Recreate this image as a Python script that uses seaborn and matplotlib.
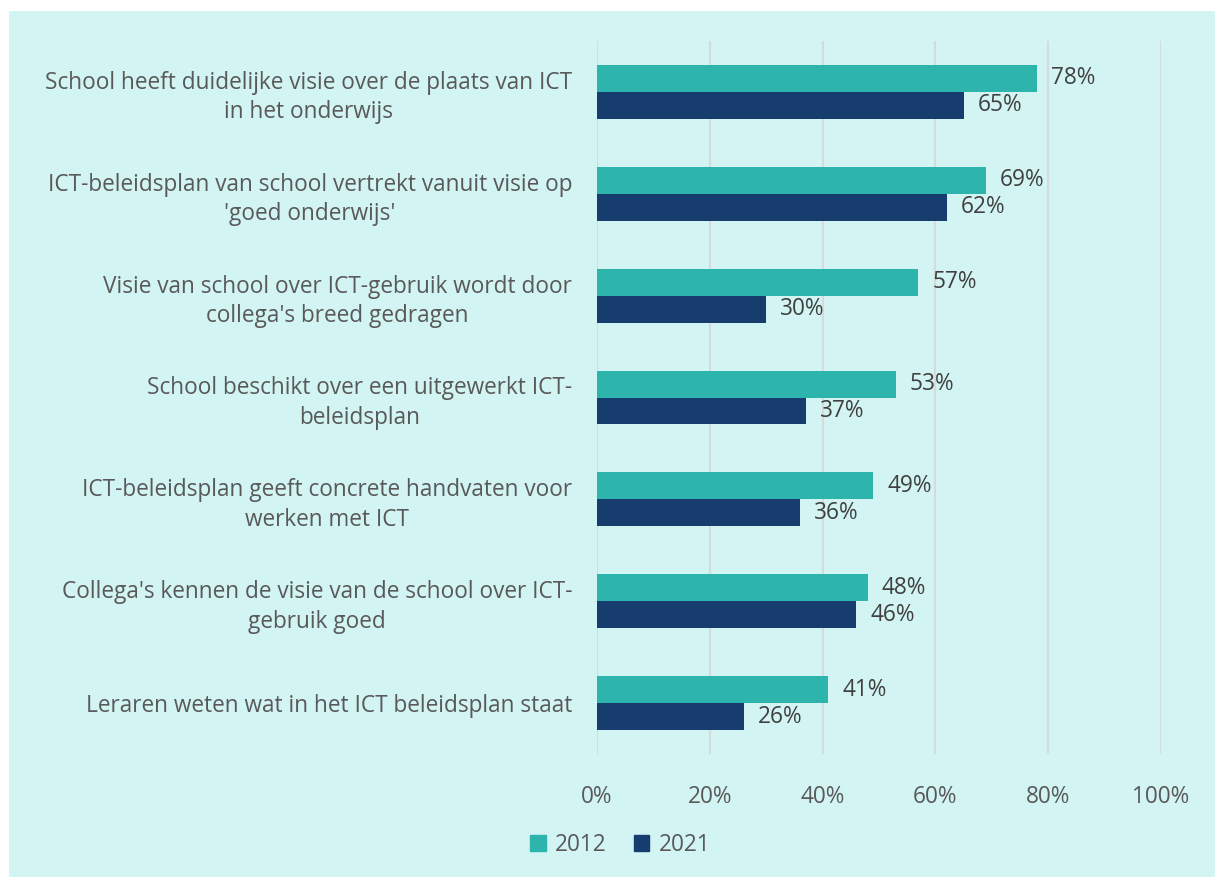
import matplotlib
matplotlib.use("Agg")
import matplotlib.pyplot as plt
import matplotlib.patches as mpatches
import seaborn as sns
import pandas as pd

categories = [
    "School heeft duidelijke visie over de plaats van ICT\nin het onderwijs",
    "ICT-beleidsplan van school vertrekt vanuit visie op\n'goed onderwijs'",
    "Visie van school over ICT-gebruik wordt door\ncollega's breed gedragen",
    "School beschikt over een uitgewerkt ICT-\nbeleidsplan",
    "ICT-beleidsplan geeft concrete handvaten voor\nwerken met ICT",
    "Collega's kennen de visie van de school over ICT-\ngebruik goed",
    "Leraren weten wat in het ICT beleidsplan staat",
]
values_2012 = [78, 69, 57, 53, 49, 48, 41]
values_2021 = [65, 62, 30, 37, 36, 46, 26]
series = ["2012", "2021"]
xticks = [0, 20, 40, 60, 80, 100]

df = pd.DataFrame({
    "cat": categories * 2,
    "val": values_2012 + values_2021,
    "year": [series[0]] * len(categories) + [series[1]] * len(categories),
})

sns.set_theme(style="white")
plt.rcParams["font.family"] = ["Open Sans", "DejaVu Sans"]

BG = "#D2F4F2"
TXT = "#595959"
FS = 16.3
colors = {"2012": "#2DB5AD", "2021": "#163D6E"}

fig = plt.figure(figsize=(12.15, 8.77), dpi=100, facecolor="white")
W, H = 1215, 877
fig.patches.append(mpatches.Rectangle((9 / W, 0), 1 - 9 / W, 1 - 11 / H,
                                      transform=fig.transFigure, facecolor=BG,
                                      edgecolor="none", zorder=-10))

ax = fig.add_axes([597 / W, 1 - 754 / H, (1161 - 597) / W, (754 - 41) / H])
ax.set_facecolor("none")

sns.barplot(data=df, y="cat", x="val", hue="year", palette=colors, orient="h",
            width=0.53, gap=0, ax=ax, legend=False, saturation=1, linewidth=0)

for cont, yr in zip(ax.containers, series):
    ax.bar_label(cont, labels=[f"{int(v)}%" for v in cont.datavalues],
                 padding=10, fontsize=FS, color="#404040")

ax.set_xlim(0, 100)
ax.set_ylim(6.5, -0.5)
ax.set_xticks(xticks)
ax.set_xticklabels([f"{t}%" for t in xticks], fontsize=FS, color=TXT)
ax.tick_params(axis="x", pad=22, length=0)
ax.tick_params(axis="y", pad=18, length=0)
ax.set_yticks(range(len(categories)))
ax.set_yticklabels(categories, fontsize=FS, color=TXT, multialignment="center",
                   linespacing=1.3)
ax.set_xlabel("")
ax.set_ylabel("")
ax.grid(axis="x", color="#D9D9D9", linewidth=1.5)
ax.set_axisbelow(True)
for s in ax.spines.values():
    s.set_visible(False)

handles = [mpatches.Patch(color=colors[s], label=s) for s in series]
fig.legend(handles=handles, loc="center", bbox_to_anchor=(620 / W, 1 - 845 / H),
           ncol=2, frameon=False, fontsize=FS, handlelength=0.7, handleheight=0.7,
           handletextpad=0.4, columnspacing=1.2, labelcolor=TXT)

fig.savefig("out.png", dpi=100, facecolor="white")
